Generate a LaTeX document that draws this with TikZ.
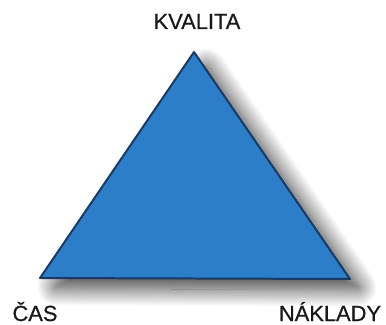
\documentclass[tikz,border=0pt]{standalone}
\usepackage{fontspec}
\setmainfont{Liberation Sans}
\newfontfamily\lblfont[BoldFont=Liberation Sans, BoldFeatures={FakeBold=0.6}]{Liberation Sans}
\usepackage{tikz}
\usetikzlibrary{positioning, shadows.blur}

\definecolor{trifill}{RGB}{44,126,200}
\definecolor{triedge}{RGB}{24,58,100}

\begin{document}
\begin{tikzpicture}[x=0.0265cm, y=-0.0265cm,
    label/.style = {font=\lblfont\bfseries\fontsize{16.5}{19}\selectfont, text=black!90, inner sep=0pt, anchor=base},
    tri/.style = {draw=triedge, line width=1.5pt, line join=round, fill=trifill,
        blur shadow={shadow xshift=9pt, shadow yshift=-8pt, shadow blur steps=20,
        shadow blur radius=13pt, shadow blur extra rounding=4pt, shadow opacity=75}}]
    \useasboundingbox (0,0) rectangle (386,325);
    % vrcholy
    \coordinate (top) at (194,52);
    \coordinate (left) at (40,278);
    \coordinate (right) at (350,279);

    % trojuholnik
    \path[tri] (top) -- (right) -- (left) -- cycle;

    % popisy
    \node[label] (kvalita) at (197,29) {KVALITA};
    \node[label] (cas) at (35,321) {ČAS};
    \node[label] (naklady) at (330,321) {NÁKLADY};
\end{tikzpicture}
\end{document}
